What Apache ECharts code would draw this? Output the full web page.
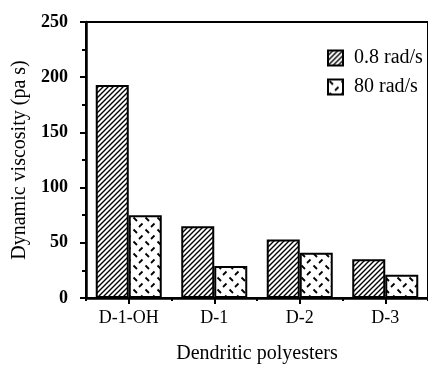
<!DOCTYPE html>
<html><head><meta charset="utf-8">
<script src="https://cdn.jsdelivr.net/npm/echarts@6/dist/echarts.min.js"></script>
<style>html,body{margin:0;padding:0;background:#fff;}#c{width:428px;height:369px;}</style>
</head><body><div id="c"></div>
<script>
var categories = ['D-1-OH', 'D-1', 'D-2', 'D-3'];
var lowFreqValues = [193, 65, 53, 35];
var highFreqValues = [75, 29, 41, 21];
var seriesNames = ['0.8 rad/s', '80 rad/s'];
var yTicks = [0, 50, 100, 150, 200, 250];

function hatchPattern() {
  var c = document.createElement('canvas');
  c.width = 5; c.height = 5;
  var g = c.getContext('2d');
  g.fillStyle = '#fff'; g.fillRect(0, 0, 5, 5);
  g.strokeStyle = '#000'; g.lineWidth = 1.4;
  g.beginPath();
  g.moveTo(-1, 6); g.lineTo(6, -1);
  g.moveTo(-6, 6); g.lineTo(1, -1);
  g.moveTo(4, 6); g.lineTo(11, -1);
  g.stroke();
  return c;
}
function dashPattern() {
  var c = document.createElement('canvas');
  c.width = 12; c.height = 12;
  var g = c.getContext('2d');
  g.fillStyle = '#fff'; g.fillRect(0, 0, 12, 12);
  g.strokeStyle = '#000'; g.lineWidth = 1.8; g.lineCap = 'butt';
  g.beginPath();
  g.moveTo(1.5, 1.5); g.lineTo(5, 5);
  g.moveTo(10.5, 7.5); g.lineTo(7, 11);
  g.stroke();
  return c;
}

var serif = 'Liberation Serif';
var chart = echarts.init(document.getElementById('c'), null, {renderer: 'canvas'});
chart.setOption({
  animation: false,
  backgroundColor: '#fff',
  grid: {left: 86, top: 22, width: 351, height: 282, show: true, borderColor: '#000', borderWidth: 2, backgroundColor: 'transparent'},
  legend: {
    orient: 'vertical', left: 322, top: 43, itemWidth: 15, itemHeight: 15, itemGap: 9,
    icon: 'rect',
    data: seriesNames,
    textStyle: {fontFamily: serif, fontSize: 20, color: '#000', padding: [0, 0, 0, 6]},
    itemStyle: {borderColor: '#000', borderWidth: 2}
  },
  xAxis: [{
    type: 'category', data: categories, position: 'bottom',
    name: 'Dendritic polyesters', nameLocation: 'middle', nameGap: 46,
    nameTextStyle: {fontFamily: serif, fontSize: 20, color: '#000'},
    axisLine: {lineStyle: {color: '#000', width: 2.5}},
    axisTick: {show: true, length: 3, lineStyle: {color: '#000', width: 2}},
    axisLabel: {fontFamily: serif, fontSize: 18, color: '#000', margin: 11}
  }, {
    type: 'category', data: categories, position: 'bottom',
    axisLine: {show: false},
    axisTick: {show: true, alignWithLabel: true, length: 6, lineStyle: {color: '#000', width: 2}},
    axisLabel: {show: false}
  }],
  yAxis: {
    type: 'value', min: yTicks[0], max: yTicks[yTicks.length - 1], interval: 50,
    name: 'Dynamic viscosity (pa s)', nameLocation: 'middle', nameGap: 56,
    nameTextStyle: {fontFamily: serif, fontSize: 20, color: '#000'},
    axisLine: {show: true, lineStyle: {color: '#000', width: 2.5}},
    axisTick: {show: true, length: 6, lineStyle: {color: '#000', width: 2}},
    minorTick: {show: true, splitNumber: 2, length: 4, lineStyle: {color: '#000', width: 2}},
    splitLine: {show: false},
    axisLabel: {fontFamily: serif, fontSize: 18, fontWeight: 'bold', color: '#000', margin: 18}
  },
  series: [{
    name: seriesNames[0], type: 'bar', data: lowFreqValues, barWidth: 33, barGap: '0%',
    itemStyle: {color: {image: hatchPattern(), repeat: 'repeat'}, borderColor: '#000', borderWidth: 2}
  }, {
    name: seriesNames[1], type: 'bar', data: highFreqValues, barWidth: 33, barGap: '0%',
    itemStyle: {color: {image: dashPattern(), repeat: 'repeat'}, borderColor: '#000', borderWidth: 2}
  }]
});
</script></body></html>
